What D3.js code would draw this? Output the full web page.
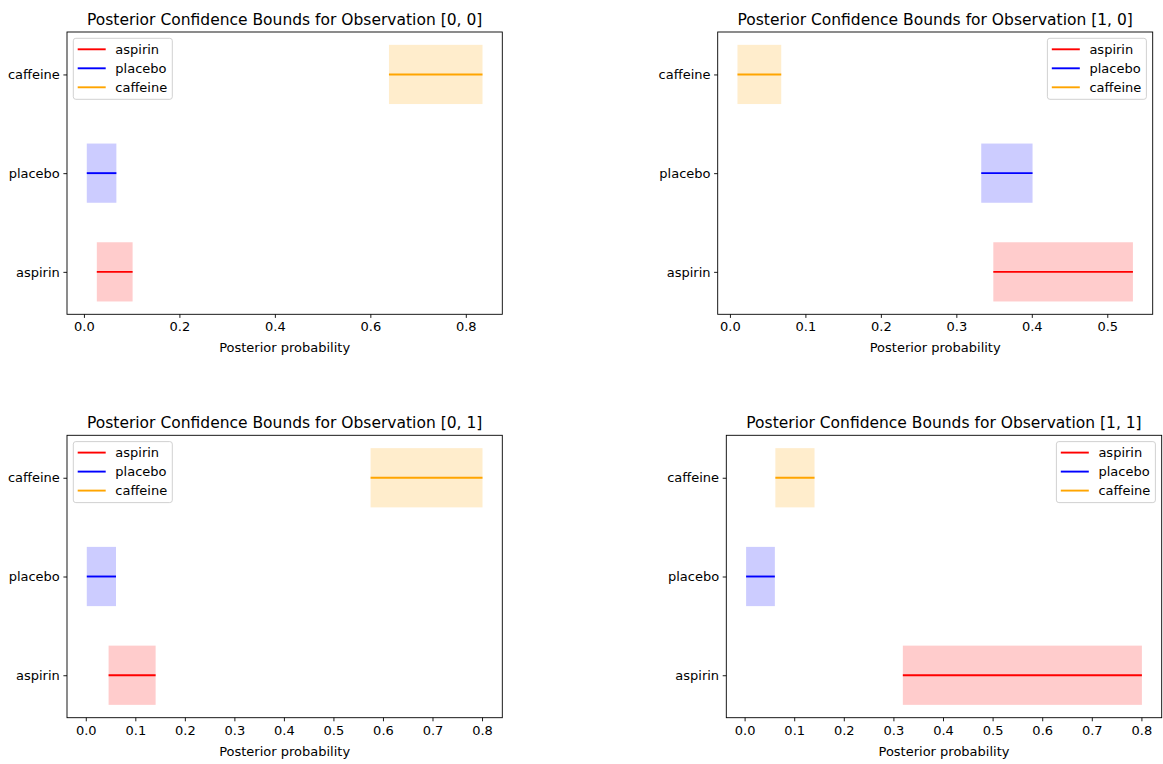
<!DOCTYPE html>
<html>
<head>
<meta charset="utf-8">
<script src="https://cdn.jsdelivr.net/npm/d3@7"></script>
<style>
  html, body { margin: 0; padding: 0; background: #fff; }
  svg { display: block; font-family: "DejaVu Sans", sans-serif; }
</style>
</head>
<body>
<svg id="chart" width="1163" height="764"></svg>
<script>
// ---------- data ----------
const categories = ["aspirin", "placebo", "caffeine"];
const colors = ["red", "blue", "orange"];
const observations = ["[0, 0]", "[1, 0]", "[0, 1]", "[1, 1]"];
// lower / upper posterior bounds, per observation, in category order
const lower00 = [0.027, 0.006, 0.639];
const upper00 = [0.102, 0.068, 0.835];
const lower10 = [0.349, 0.333, 0.010];
const upper10 = [0.534, 0.401, 0.068];
const lower01 = [0.046, 0.002, 0.575];
const upper01 = [0.141, 0.061, 0.801];
const lower11 = [0.319, 0.003, 0.062];
const upper11 = [0.801, 0.061, 0.141];
const lowers = [lower00, lower10, lower01, lower11];
const uppers = [upper00, upper10, upper01, upper11];
const tickStep = [0.2, 0.1, 0.1, 0.1];
const xLabel = "Posterior probability";

// ---------- layout ----------
const panels = [
  { x0: 67,    x1: 502.3,  y0: 32,    y1: 314.3, legend: "left" },
  { x0: 717.7, x1: 1152.7, y0: 32,    y1: 314.3, legend: "right" },
  { x0: 67,    x1: 502.3,  y0: 435.3, y1: 717.7, legend: "left" },
  { x0: 726.3, x1: 1161.7, y0: 435.3, y1: 717.7, legend: "right" }
];

const svg = d3.select("#chart");
const tickFont = 13, titleFont = 15.5, tickLen = 3.6, pad = 3.6;
const half = 0.3;

panels.forEach((p, i) => {
  const lo = lowers[i], hi = uppers[i];
  const dmin = d3.min(lo), dmax = d3.max(hi);
  const m = (dmax - dmin) * 0.05;
  const x = d3.scaleLinear().domain([dmin - m, dmax + m]).range([p.x0, p.x1]);
  const ym = (categories.length - 1 + 2 * half) * 0.05;
  const y = d3.scaleLinear().domain([-half - ym, categories.length - 1 + half + ym]).range([p.y1, p.y0]);

  const g = svg.append("g");

  // bands
  categories.forEach((c, k) => {
    g.append("rect")
      .attr("x", x(lo[k])).attr("width", x(hi[k]) - x(lo[k]))
      .attr("y", y(k + half)).attr("height", y(k - half) - y(k + half))
      .attr("fill", colors[k]).attr("fill-opacity", 0.2);
  });
  categories.forEach((c, k) => {
    g.append("line")
      .attr("x1", x(lo[k])).attr("x2", x(hi[k]))
      .attr("y1", y(k)).attr("y2", y(k))
      .attr("stroke", colors[k]).attr("stroke-width", 1.9);
  });

  // frame
  g.append("rect")
    .attr("x", p.x0).attr("y", p.y0)
    .attr("width", p.x1 - p.x0).attr("height", p.y1 - p.y0)
    .attr("fill", "none").attr("stroke", "#000").attr("stroke-width", 0.9);

  // x axis
  const ticks = d3.range(0, dmax + 1e-9, tickStep[i]).filter(t => t >= dmin - m && t <= dmax + m);
  const xa = d3.axisBottom(x).tickValues(ticks).tickFormat(d3.format(".1f"))
    .tickSizeInner(tickLen).tickSizeOuter(0).tickPadding(pad);
  const xg = g.append("g").attr("transform", `translate(0,${p.y1})`).call(xa);
  xg.select(".domain").remove();
  xg.selectAll("line").attr("stroke", "#000").attr("stroke-width", 0.9);
  xg.selectAll("text").attr("font-size", tickFont).attr("fill", "#000")
    .attr("font-family", "DejaVu Sans").attr("dy", "0.76em");

  // y axis
  const ya = d3.axisLeft(y).tickValues(d3.range(categories.length))
    .tickFormat(k => categories[k]).tickSizeInner(tickLen).tickSizeOuter(0).tickPadding(pad);
  const yg = g.append("g").attr("transform", `translate(${p.x0},0)`).call(ya);
  yg.select(".domain").remove();
  yg.selectAll("line").attr("stroke", "#000").attr("stroke-width", 0.9);
  yg.selectAll("text").attr("font-size", tickFont).attr("fill", "#000")
    .attr("font-family", "DejaVu Sans");

  // x label
  g.append("text")
    .attr("x", (p.x0 + p.x1) / 2).attr("y", p.y1 + 38)
    .attr("text-anchor", "middle").attr("font-size", tickFont).attr("fill", "#000")
    .text(xLabel);

  // title
  g.append("text")
    .attr("x", (p.x0 + p.x1) / 2).attr("y", p.y0 - 7.5)
    .attr("text-anchor", "middle").attr("font-size", titleFont).attr("fill", "#000")
    .text("Posterior Confidence Bounds for Observation " + observations[i]);

  // legend
  const lw = 99, lh = 61;
  const lx = p.legend === "left" ? p.x0 + 6.3 : p.x1 - 6.3 - lw;
  const ly = p.y0 + 6.3;
  const lg = g.append("g").attr("transform", `translate(${lx},${ly})`);
  lg.append("rect").attr("width", lw).attr("height", lh).attr("rx", 2.5)
    .attr("fill", "#fff").attr("fill-opacity", 0.8)
    .attr("stroke", "#cccccc").attr("stroke-width", 0.9);
  categories.forEach((c, k) => {
    const yy = 11 + k * 19;
    lg.append("line").attr("x1", 4.4).attr("x2", 32.4).attr("y1", yy).attr("y2", yy)
      .attr("stroke", colors[k]).attr("stroke-width", 1.9);
    lg.append("text").attr("x", 42).attr("y", yy).attr("dy", "0.36em")
      .attr("font-size", tickFont).attr("fill", "#000").text(c);
  });
});
</script>
</body>
</html>
